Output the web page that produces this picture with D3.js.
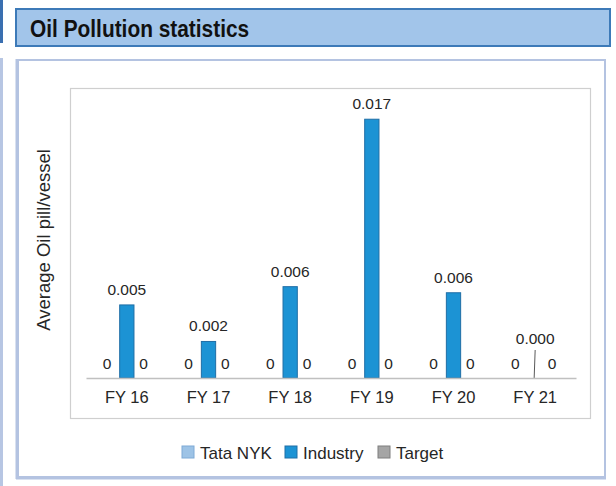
<!DOCTYPE html>
<html>
<head>
<meta charset="utf-8">
<script src="https://cdn.jsdelivr.net/npm/d3@7"></script>
<style>
  body { margin: 0; background: #fff; }
  svg { display: block; }
  text { font-family: "Liberation Sans", Arial, sans-serif; }
</style>
</head>
<body>
<svg id="chart"></svg>
<script>
const categories = ["FY 16", "FY 17", "FY 18", "FY 19", "FY 20", "FY 21"];
const series = ["Tata NYK", "Industry", "Target"];
const tataNYK = [0, 0, 0, 0, 0, 0];
const industry = [0.0048, 0.0024, 0.006, 0.017, 0.0056, 0];
const target = [0, 0, 0, 0, 0, 0];
const colors = { "Tata NYK": "#9dc3e6", "Industry": "#1c93d4", "Target": "#a5a5a5" };
const strokes = { "Tata NYK": "#7eaad6", "Industry": "#1f6ea6", "Target": "#7f7f7f" };

const W = 616, H = 486;
const svg = d3.select("#chart").attr("width", W).attr("height", H);

// page decoration
svg.append("rect").attr("x", 0).attr("y", 0).attr("width", 3).attr("height", 43).attr("fill", "#3a6fb0");
svg.append("rect").attr("x", 0).attr("y", 58).attr("width", 3).attr("height", H - 58).attr("fill", "#b7c6e3");

svg.append("rect")
  .attr("x", 16).attr("y", 9).attr("width", 594).attr("height", 37)
  .attr("fill", "#a2c5ea").attr("stroke", "#3d7ab8").attr("stroke-width", 2);
svg.append("text")
  .attr("transform", "translate(30,37) scale(0.87,1)")
  .attr("font-size", 24).attr("font-weight", "bold")
  .attr("fill", "#111")
  .text("Oil Pollution statistics");

// outer panel
svg.append("rect")
  .attr("x", 18).attr("y", 60).attr("width", 587).attr("height", 417)
  .attr("fill", "#fff").attr("stroke", "#b4c3e1").attr("stroke-width", 2);
svg.append("line").attr("x1", 17).attr("x2", 17).attr("y1", 59).attr("y2", 479)
  .attr("stroke", "#b4c3e1").attr("stroke-width", 3);
svg.append("line").attr("x1", 16).attr("x2", 606).attr("y1", 478).attr("y2", 478)
  .attr("stroke", "#b4c3e1").attr("stroke-width", 3);

// plot area frame
svg.append("rect")
  .attr("x", 70.5).attr("y", 88.5).attr("width", 520).attr("height", 330)
  .attr("fill", "#fff").attr("stroke", "#cfcfcf").attr("stroke-width", 1.2);

const x0 = d3.scaleBand().domain(categories).range([86, 576]).padding(0);
const x1 = d3.scaleBand().domain(series).range([-25, 25]).paddingInner(0.2);
const y = d3.scaleLinear().domain([0, 0.018]).range([378, 104]);
const fmt = d3.format(".3f");

const valuesBySeries = { "Tata NYK": tataNYK, "Industry": industry, "Target": target };
const rows = categories.map((c, i) => ({
  cat: c,
  vals: series.map(s => ({ s, v: valuesBySeries[s][i] }))
}));

const groups = svg.selectAll("g.grp").data(rows).enter().append("g")
  .attr("class", "grp")
  .attr("transform", d => `translate(${x0(d.cat) + x0.bandwidth() / 2},0)`);

groups.selectAll("rect").data(d => d.vals.filter(e => e.v > 0)).enter().append("rect")
  .attr("x", e => x1(e.s))
  .attr("width", x1.bandwidth())
  .attr("y", e => y(e.v))
  .attr("height", e => y(0) - y(e.v))
  .attr("fill", e => colors[e.s])
  .attr("stroke", e => strokes[e.s])
  .attr("stroke-width", 1);

// data labels
groups.selectAll("text.lbl").data(d => d.vals).enter().append("text")
  .attr("class", "lbl")
  .attr("text-anchor", "middle")
  .attr("font-size", 15.5)
  .attr("fill", "#262626")
  .attr("x", e => x1(e.s) + x1.bandwidth() / 2 + (e.s === "Industry" ? 0 : (e.s === "Target" ? -1 : -2)))
  .attr("y", e => e.s === "Industry" ? (e.v > 0 ? y(e.v) - 10 : y(0) - 34) : y(0) - 9)
  .text(e => e.s === "Industry" ? fmt(e.v) : d3.format("d")(e.v));

// leader line for zero industry value
groups.filter(d => d.vals[1].v === 0).append("line")
  .attr("x1", 0).attr("x2", -1)
  .attr("y1", y(0) - 28).attr("y2", y(0))
  .attr("stroke", "#595959").attr("stroke-width", 1);

// category axis
const xAxis = svg.append("g").attr("transform", "translate(0,378)")
  .call(d3.axisBottom(x0).tickSize(0).tickPadding(13));
xAxis.select(".domain").attr("stroke", "#c0c0c0").attr("stroke-width", 1.5);
xAxis.selectAll("text").attr("font-size", 16.5).attr("fill", "#262626")
  .style("font-family", "'Liberation Sans', Arial, sans-serif");

// y axis title
svg.append("text")
  .attr("transform", "translate(50,240) rotate(-90)")
  .attr("text-anchor", "middle")
  .attr("font-size", 18.5)
  .attr("fill", "#262626")
  .text("Average Oil pill/vessel");

// legend
const legendX = [182, 285, 378];
const lg = svg.selectAll("g.lg").data(series).enter().append("g")
  .attr("class", "lg")
  .attr("transform", (d, i) => `translate(${legendX[i]},446)`);
lg.append("rect").attr("width", 12).attr("height", 12)
  .attr("fill", d => colors[d]).attr("stroke", d => strokes[d]).attr("stroke-width", 1);
lg.append("text").attr("x", 18).attr("y", 12.5)
  .attr("font-size", 17).attr("fill", "#262626")
  .text(d => d);
</script>
</body>
</html>
